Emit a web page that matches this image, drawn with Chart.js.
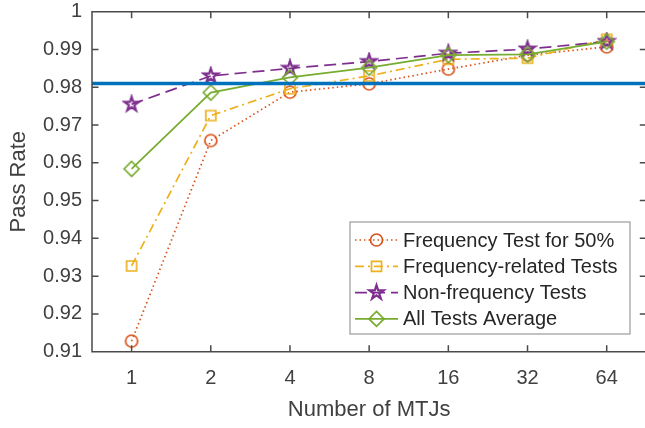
<!DOCTYPE html>
<html>
<head>
<meta charset="utf-8">
<script src="https://cdn.jsdelivr.net/npm/chart.js@4"></script>
<style>
html, body { margin: 0; padding: 0; background: #fff; overflow: hidden; }
#wrap { width: 655px; height: 428px; }
</style>
</head>
<body>
<div id="wrap"><canvas id="ctx_pass_rate" width="655" height="428"></canvas></div>
<script>
// data
var mtj_counts = ['1', '2', '4', '8', '16', '32', '64'];
var freq_test_50 = [0.9128, 0.9659, 0.9787, 0.9809, 0.9848, 0.9885, 0.9907];
var freq_related = [0.9327, 0.9725, 0.9796, 0.9830, 0.9874, 0.9877, 0.9927];
var non_freq = [0.9755, 0.9830, 0.9850, 0.9868, 0.9890, 0.9901, 0.9921];
var all_average = [0.9584, 0.9786, 0.9826, 0.9852, 0.9885, 0.9887, 0.9921];
var threshold = 0.981;
var y_ticks = [0.91, 0.92, 0.93, 0.94, 0.95, 0.96, 0.97, 0.98, 0.99, 1];

var x_min = 0.5, x_max = mtj_counts.length + 0.5;
var font_family = '"Liberation Sans", Arial, Helvetica, sans-serif';
var axis_color = '#4a4a4a';
var text_color = '#404040';

var colors = {
    blue: '#0072BD',
    orange: '#D95319',
    yellow: '#EDB120',
    purple: '#7E2F8E',
    green: '#77AC30'
};

function draw_marker(c, kind, x, y, color) {
    c.save();
    c.setLineDash([]);
    c.strokeStyle = color;
    c.lineWidth = 1.7;
    c.beginPath();
    if (kind == 'circle') {
        c.arc(x, y, 6, 0, Math.PI * 2);
    } else if (kind == 'square') {
        c.rect(x - 5, y - 5, 10, 10);
    } else if (kind == 'diamond') {
        c.moveTo(x, y - 7.5);
        c.lineTo(x + 7.5, y);
        c.lineTo(x, y + 7.5);
        c.lineTo(x - 7.5, y);
        c.closePath();
    } else if (kind == 'star') {
        c.lineWidth = 2.2;
        var ro = 7.5, ri = 7.5 * 0.382;
        for (var i = 0; i < 10; i++) {
            var r = i % 2 == 0 ? ro : ri;
            var a = -Math.PI / 2 + i * Math.PI / 5;
            if (i == 0) c.moveTo(x + r * Math.cos(a), y + r * Math.sin(a));
            else c.lineTo(x + r * Math.cos(a), y + r * Math.sin(a));
        }
        c.closePath();
    }
    c.stroke();
    c.restore();
}

function make_marker(kind, color) {
    var cv = document.createElement('canvas');
    cv.width = 20;
    cv.height = 20;
    draw_marker(cv.getContext('2d'), kind, 10, 10, color);
    return cv;
}

function to_points(values) {
    return values.map(function (v, i) { return {x: i + 1, y: v}; });
}

var series = [
    {label: 'Frequency Test for 50%', values: freq_test_50, color: colors.orange, marker: 'circle', dash: [1.5, 3]},
    {label: 'Frequency-related Tests', values: freq_related, color: colors.yellow, marker: 'square', dash: [9, 4, 2, 4]},
    {label: 'Non-frequency Tests', values: non_freq, color: colors.purple, marker: 'star', dash: [12, 6]},
    {label: 'All Tests Average', values: all_average, color: colors.green, marker: 'diamond', dash: []}
];

var datasets = series.map(function (s, i) {
    var img = make_marker(s.marker, s.color);
    return {
        label: s.label,
        data: to_points(s.values),
        borderColor: s.color,
        borderWidth: 1.7,
        borderDash: s.dash,
        pointStyle: img,
        pointRadius: 7,
        fill: false,
        tension: 0,
        order: 5 - i
    };
});
datasets.push({
    label: 'threshold',
    data: [{x: x_min, y: threshold}, {x: x_max, y: threshold}],
    borderColor: colors.blue,
    borderWidth: 3.5,
    pointRadius: 0,
    fill: false,
    order: 0
});

var axes_box = {
    id: 'axes_box',
    afterDraw: function (chart) {
        var c = chart.ctx, a = chart.chartArea;
        var sx = chart.scales.x, sy = chart.scales.y;
        var tl = 6.5;
        c.save();
        c.strokeStyle = axis_color;
        c.lineWidth = 1.5;
        c.setLineDash([]);
        c.beginPath();
        c.rect(a.left, a.top, a.right - a.left, a.bottom - a.top);
        mtj_counts.forEach(function (m, i) {
            var px = sx.getPixelForValue(i + 1);
            c.moveTo(px, a.bottom); c.lineTo(px, a.bottom - tl);
            c.moveTo(px, a.top); c.lineTo(px, a.top + tl);
        });
        y_ticks.forEach(function (v) {
            var py = sy.getPixelForValue(v);
            c.moveTo(a.left, py); c.lineTo(a.left + tl, py);
            c.moveTo(a.right, py); c.lineTo(a.right - tl, py);
        });
        c.stroke();
        c.restore();
    }
};

var legend_box = {
    id: 'legend_box',
    afterDraw: function (chart) {
        var c = chart.ctx;
        var lx = 350, ly = 222, lw = 280, lh = 112;
        c.save();
        c.fillStyle = '#ffffff';
        c.fillRect(lx, ly, lw, lh);
        c.strokeStyle = '#9a9a9a';
        c.lineWidth = 1.2;
        c.strokeRect(lx, ly, lw, lh);
        c.font = '20px ' + font_family;
        c.textBaseline = 'middle';
        c.textAlign = 'left';
        series.forEach(function (s, i) {
            var y = 240 + i * 26.3;
            c.strokeStyle = s.color;
            c.lineWidth = 1.7;
            c.setLineDash(s.dash);
            c.beginPath();
            c.moveTo(355, y);
            c.lineTo(398, y);
            c.stroke();
            draw_marker(c, s.marker, 376.5, y, s.color);
            c.fillStyle = '#262626';
            c.fillText(s.label, 403, y + 1);
        });
        c.restore();
    }
};

var chart_pass_rate = new Chart(document.getElementById('ctx_pass_rate').getContext('2d'), {
    type: 'line',
    data: {datasets: datasets},
    options: {
        responsive: false,
        animation: false,
        layout: {padding: {top: 11.7, right: 6, bottom: 0, left: 0}},
        plugins: {
            legend: {display: false},
            tooltip: {enabled: false}
        },
        scales: {
            x: {
                type: 'linear',
                min: x_min,
                max: x_max,
                afterBuildTicks: function (axis) {
                    axis.ticks = mtj_counts.map(function (m, i) { return {value: i + 1}; });
                },
                afterFit: function (scale) {
                    scale.height = 428 - 351.7;
                    scale.paddingLeft = 0;
                    scale.paddingRight = 0;
                },
                grid: {display: false, drawTicks: false},
                border: {display: false},
                ticks: {
                    autoSkip: false,
                    maxRotation: 0,
                    padding: 15,
                    color: text_color,
                    font: {family: font_family, size: 20},
                    callback: function (v) { return mtj_counts[Math.round(v) - 1]; }
                },
                title: {
                    display: true,
                    text: 'Number of MTJs',
                    color: text_color,
                    font: {family: font_family, size: 22},
                    padding: {top: 0, bottom: 5}
                }
            },
            y: {
                type: 'linear',
                min: y_ticks[0],
                max: y_ticks[y_ticks.length - 1],
                afterBuildTicks: function (axis) {
                    axis.ticks = y_ticks.map(function (v) { return {value: v}; });
                },
                afterFit: function (scale) {
                    scale.width = 92;
                    scale.paddingTop = 0;
                    scale.paddingBottom = 0;
                },
                grid: {display: false, drawTicks: false},
                border: {display: false},
                ticks: {
                    padding: 10,
                    color: text_color,
                    font: {family: font_family, size: 20},
                    callback: function (v) { return String(Math.round(v * 100) / 100); }
                },
                title: {
                    display: true,
                    text: 'Pass Rate',
                    color: text_color,
                    font: {family: font_family, size: 22},
                    padding: {top: 6, bottom: 0}
                }
            }
        }
    },
    plugins: [axes_box, legend_box]
});
</script>
</body>
</html>
